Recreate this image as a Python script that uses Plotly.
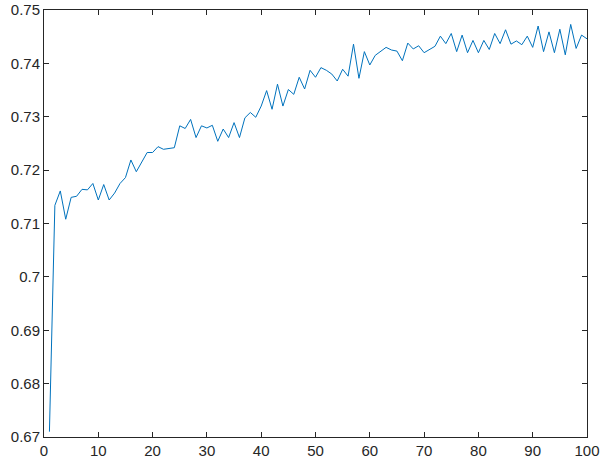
import plotly.graph_objects as go

# epoch index and metric values
epochs = list(range(1, 101))
values = [
    0.6710, 0.7134, 0.7161, 0.7108, 0.7149, 0.7151, 0.7164, 0.7163, 0.7175, 0.7144,
    0.7173, 0.7144, 0.7157, 0.7175, 0.7186, 0.7219, 0.7197, 0.7216, 0.7233, 0.7233,
    0.7244, 0.7239, 0.7241, 0.7242, 0.7283, 0.7278, 0.7295, 0.7261, 0.7283, 0.7279,
    0.7284, 0.7254, 0.7277, 0.7261, 0.7289, 0.7261, 0.7298, 0.7308, 0.7299, 0.7320,
    0.7349, 0.7314, 0.7361, 0.7320, 0.7351, 0.7342, 0.7374, 0.7352, 0.7387, 0.7374,
    0.7392, 0.7387, 0.7380, 0.7367, 0.7389, 0.7376, 0.7436, 0.7372, 0.7422, 0.7397,
    0.7415, 0.7422, 0.7430, 0.7425, 0.7423, 0.7405, 0.7438, 0.7427, 0.7433, 0.7420,
    0.7426, 0.7432, 0.7451, 0.7437, 0.7456, 0.7422, 0.7453, 0.7420, 0.7443, 0.7420,
    0.7443, 0.7426, 0.7456, 0.7437, 0.7463, 0.7436, 0.7442, 0.7435, 0.7451, 0.7430,
    0.7470, 0.7422, 0.7459, 0.7420, 0.7464, 0.7416, 0.7473, 0.7428, 0.7453, 0.7446,
]

x_ticks = list(range(0, 101, 10))
y_ticks = [0.67, 0.68, 0.69, 0.70, 0.71, 0.72, 0.73, 0.74, 0.75]
y_labels = ["0.67", "0.68", "0.69", "0.7", "0.71", "0.72", "0.73", "0.74", "0.75"]

axis_color = "#262626"

fig = go.Figure()
fig.add_trace(
    go.Scatter(
        x=epochs,
        y=values,
        mode="lines",
        line=dict(color="#0072BD", width=1),
        showlegend=False,
    )
)

axis_style = dict(
    showgrid=False,
    zeroline=False,
    showline=True,
    linecolor=axis_color,
    linewidth=1,
    mirror="ticks",
    ticks="inside",
    ticklen=5,
    tickcolor=axis_color,
    automargin=False,
    tickfont=dict(family="Liberation Sans, Arial", size=15, color=axis_color),
)

fig.update_layout(
    width=604,
    height=467,
    margin=dict(l=44, r=17, t=10, b=30),
    paper_bgcolor="white",
    plot_bgcolor="white",
    xaxis=dict(range=[0, 100], tickvals=x_ticks, **axis_style),
    yaxis=dict(range=[0.67, 0.75], tickvals=y_ticks, ticktext=y_labels, **axis_style),
)

# page body has a default 8px margin, remove it so the figure sits at 0,0
fig.write_html(
    "out.html",
    config={"displayModeBar": False},
    post_script="document.body.style.margin='0px';",
)
